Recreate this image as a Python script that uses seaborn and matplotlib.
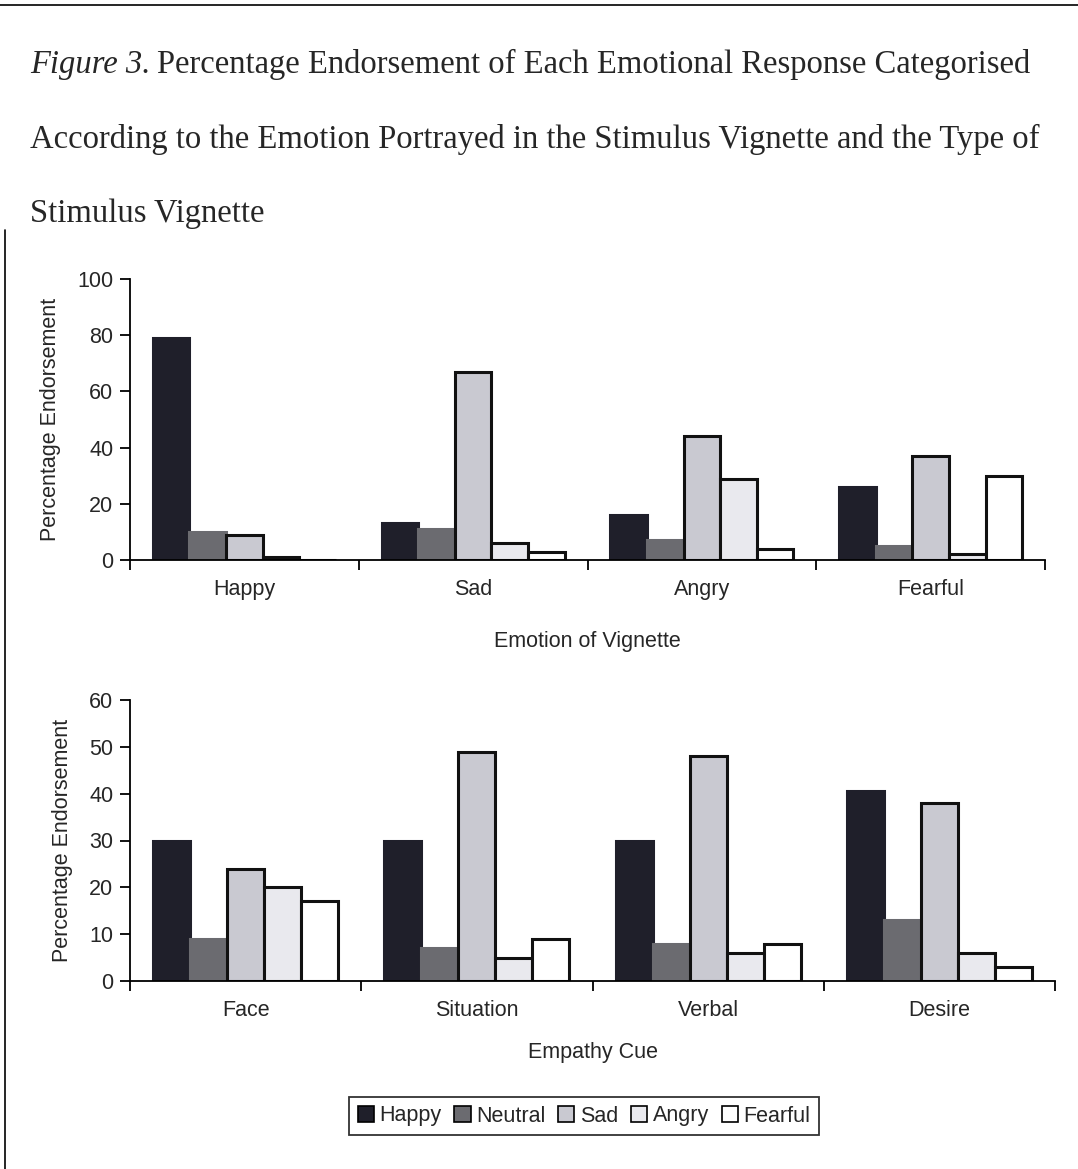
import matplotlib
matplotlib.use("Agg")
import matplotlib.pyplot as plt
from matplotlib.lines import Line2D
from matplotlib.patches import Patch
import seaborn as sns
import pandas as pd

responses = ["Happy", "Neutral", "Sad", "Angry", "Fearful"]

vignette_emotions = ["Happy", "Sad", "Angry", "Fearful"]
top_happy = [79, 13, 16, 26]
top_neutral = [10, 11, 7, 5]
top_sad = [9, 67, 44, 37]
top_angry = [1, 6, 29, 2]
top_fearful = [0, 3, 4, 30]

empathy_cues = ["Face", "Situation", "Verbal", "Desire"]
bot_happy = [30, 30, 30, 40.5]
bot_neutral = [9, 7, 8, 13]
bot_sad = [24, 49, 48, 38]
bot_angry = [20, 5, 6, 6]
bot_fearful = [17, 9, 8, 3]

fill_colors = ["#1f1f2a", "#6b6b70", "#c9c9d1", "#e9e9ee", "#ffffff"]
edge_colors = ["#1f1f2a", "#6b6b70", "#111111", "#111111", "#111111"]


def long_df(cats, series):
    rows = []
    for resp, vals in zip(responses, series):
        for c, v in zip(cats, vals):
            rows.append({"cat": c, "resp": resp, "val": v})
    return pd.DataFrame(rows)


sns.set_theme(style="white")
plt.rcParams["font.family"] = ["Liberation Sans", "DejaVu Sans"]

W, H = 1078, 1169
FS = 15.5
fig = plt.figure(figsize=(W / 100, H / 100), dpi=100)


def px_axes(left, right, top, bottom):
    return fig.add_axes([left / W, 1 - bottom / H, (right - left) / W, (bottom - top) / H])


def draw(ax, cats, series, ymax, ystep, xlabel, xlabel_pad):
    df = long_df(cats, series)
    sns.barplot(data=df, x="cat", y="val", hue="resp", order=cats, hue_order=responses,
                palette=fill_colors, width=0.8, ax=ax, legend=False, saturation=1)
    for cont, ec in zip(ax.containers, edge_colors):
        for bar in cont:
            bar.set_edgecolor(ec)
            bar.set_linewidth(2.2)
    ax.set_xlim(-0.5, len(cats) - 0.5)
    ax.set_ylim(0, ymax)
    ax.set_yticks(range(0, ymax + 1, ystep))
    ax.set_xticks([i - 0.5 for i in range(len(cats) + 1)])
    ax.set_xticklabels([])
    ax.set_xticks(range(len(cats)), minor=True)
    ax.set_xticklabels(cats, minor=True)
    ax.tick_params(axis="x", which="major", length=7, width=1.3, direction="out", bottom=True, color="black")
    ax.tick_params(axis="x", which="minor", length=0, labelsize=FS, pad=14)
    ax.tick_params(axis="y", length=7, width=1.3, direction="out", left=True, labelsize=FS, pad=5, color="black")
    for s in ["top", "right"]:
        ax.spines[s].set_visible(False)
    for s in ["left", "bottom"]:
        ax.spines[s].set_color("black")
        ax.spines[s].set_linewidth(1.3)
    ax.set_ylabel("Percentage Endorsement", fontsize=FS, labelpad=12)
    ax.set_xlabel(xlabel, fontsize=FS, labelpad=xlabel_pad)


ax1 = px_axes(130, 1045, 279, 560)
draw(ax1, vignette_emotions, [top_happy, top_neutral, top_sad, top_angry, top_fearful],
     100, 20, "Emotion of Vignette", 22)

ax2 = px_axes(130, 1055, 700, 981)
draw(ax2, empathy_cues, [bot_happy, bot_neutral, bot_sad, bot_angry, bot_fearful],
     60, 10, "Empathy Cue", 15)

handles = [Patch(facecolor=fc, edgecolor="black", linewidth=1.2) for fc in fill_colors]
leg = fig.legend(handles, responses, loc="center", bbox_to_anchor=(584 / W, 1 - 1116 / H),
                 ncol=5, frameon=True, fontsize=FS, handlelength=0.75, handleheight=0.75,
                 handletextpad=0.25, columnspacing=0.6, borderpad=0.4, fancybox=False)
leg.get_frame().set_edgecolor("black")
leg.get_frame().set_linewidth(1.3)

# title in serif with italic "Figure 3."
serif = ["Liberation Serif", "DejaVu Serif"]
tsize = 23.5
renderer = fig.canvas.get_renderer()
t0 = fig.text(30 / W, 1 - 73 / H, "Figure 3.", family=serif, style="italic", fontsize=tsize, va="baseline")
bb = t0.get_window_extent(renderer)
fig.text((bb.x1 + 7) / W, 1 - 73 / H,
         "Percentage Endorsement of Each Emotional Response Categorised",
         family=serif, fontsize=tsize, va="baseline")
fig.text(30 / W, 1 - 148 / H,
         "According to the Emotion Portrayed in the Stimulus Vignette and the Type of",
         family=serif, fontsize=tsize, va="baseline")
fig.text(30 / W, 1 - 222 / H, "Stimulus Vignette", family=serif, fontsize=tsize, va="baseline")

# frame lines
fig.add_artist(Line2D([0, 1], [1 - 5 / H, 1 - 5 / H], transform=fig.transFigure, color="black", lw=1.2))
fig.add_artist(Line2D([5 / W, 5 / W], [0, 1 - 230 / H], transform=fig.transFigure, color="black", lw=1.2))

fig.savefig("out.png", dpi=100)
